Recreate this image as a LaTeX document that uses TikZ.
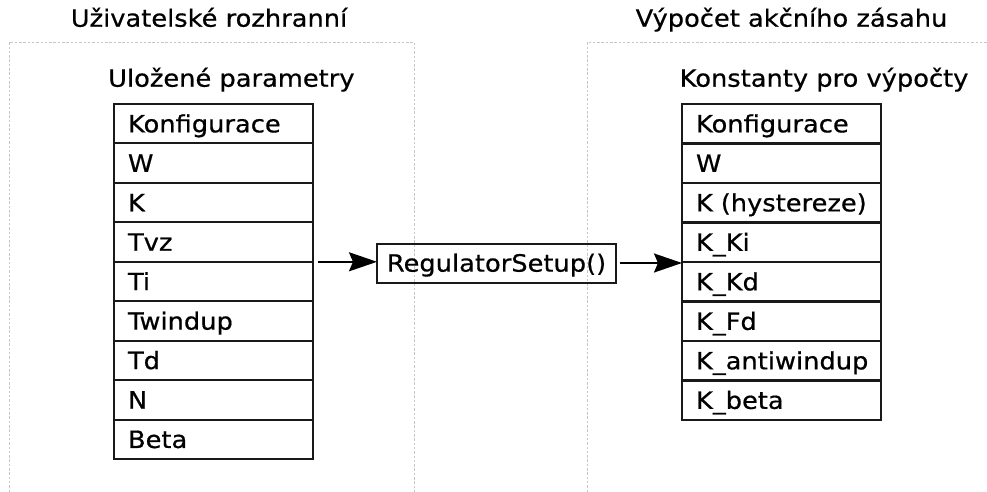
\documentclass[tikz,border=0pt]{standalone}
\usepackage{fontspec}
\setmainfont{DejaVu Sans}[FakeStretch=1.08, FakeBold=0.6]
\usetikzlibrary{arrows.meta,calc}
\begin{document}
\begin{tikzpicture}[x=1pt,y=-1pt,
  every node/.style={font=\fontsize{23.8}{28}\selectfont, text=black},
  frame/.style={draw=black!22, line width=0.8pt, dash pattern=on 2.5pt off 1.8pt},
  cell/.style={draw=black!90, line width=2pt, outer sep=0pt, minimum height=39.45pt,
    text width=171pt, inner xsep=14pt, inner ysep=0pt, text height=17.3pt, text depth=0pt,
    align=left, anchor=north west},
  func/.style={draw=black!90, line width=2pt, outer sep=0pt, minimum width=239pt, minimum height=39pt,
    inner ysep=0pt, text height=17.3pt, text depth=0pt},
  arr/.style={draw=black, line width=2pt, -{Stealth[length=28pt, width=19pt, inset=4pt]}},
  title/.style={anchor=base, inner sep=0pt},
  sub/.style={anchor=base west, inner sep=0pt}]
\fill[white] (0,0) rectangle (987,492);
\useasboundingbox (0,0) rectangle (987,492);
% frames
\draw[frame] (9,492) -- (9,42) -- (414,42) -- (414,492);
\draw[frame] (587,492) -- (587,42) -- (987,42);
% titles
\node[title] (t1) at (209,26.7) {Uživatelské rozhranní};
\node[title] (t2) at (791.5,26.7) {Výpočet akčního zásahu};
\node[sub] (s1) at (108,86.7) {Uložené parametry};
\node[sub] (s2) at (679.5,86.7) {Konstanty pro výpočty};
% left table
\foreach \t [count=\i from 0] in {Konfigurace, W, K, Tvz, Ti, Twindup, Td, N, Beta}
  \node[cell] (l\i) at (114,{104+39.45*\i}) {\t};
% right table
\foreach \t [count=\i from 0] in {Konfigurace, W, K (hystereze), K\_Ki, K\_Kd, K\_Fd, K\_antiwindup, K\_beta}
  \node[cell] (r\i) at (682,{104+39.5*\i}) {\t};
% function box
\node[func] (reg) at (496.5,263) {RegulatorSetup()};
\coordinate (a1) at ($(l3.south east)+(5,0)$);
\draw[arr] (a1) -- (a1 -| reg.west);
\coordinate (a2) at ($(reg.east)+(4,0)$);
\draw[arr] (a2) -- (a2 -| r0.west);
\end{tikzpicture}
\end{document}
